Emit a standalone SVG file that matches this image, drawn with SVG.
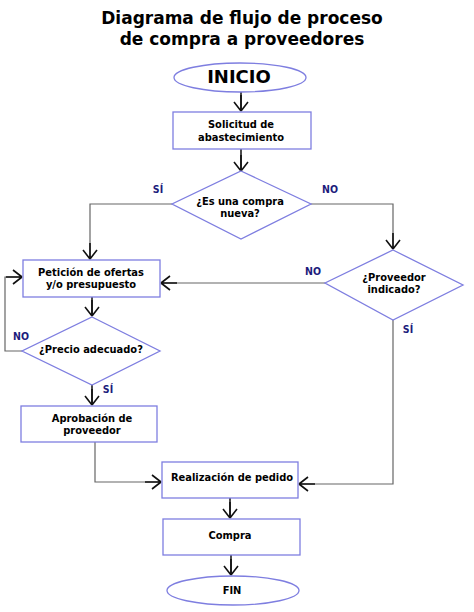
<svg xmlns="http://www.w3.org/2000/svg" width="474" height="612" viewBox="0 0 474 612">
<style>
.t{font-family:"DejaVu Sans",Verdana,sans-serif;font-weight:bold;fill:#000;text-anchor:middle}
.n{font-family:"DejaVu Sans Condensed","DejaVu Sans",sans-serif;font-stretch:condensed;font-weight:bold;font-size:11px;fill:#000;text-anchor:middle}
.l{font-family:"DejaVu Sans Condensed","DejaVu Sans",sans-serif;font-stretch:condensed;font-weight:bold;font-size:10.5px;fill:#1c1c7c;text-anchor:middle}
.s{fill:#fff;stroke:#7e7ee0;stroke-width:1.3}
.c{fill:none;stroke:#666;stroke-width:1.2}
.k{fill:none;stroke:#111;stroke-width:1.5}
</style>
<defs>
<marker id="a" markerUnits="userSpaceOnUse" viewBox="-20 -10 22 20" refX="0" refY="0" markerWidth="22" markerHeight="20" orient="auto" overflow="visible">
<path d="M0,0 L-9,-7 M0,0 L-9,7 M0,0 L-16,0" fill="none" stroke="#111" stroke-width="1.6"/>
</marker>
</defs>
<rect width="474" height="612" fill="#fff"/>
<g id="title">
<text class="t" x="242" y="24" font-size="17">Diagrama de flujo de proceso</text>
<text class="t" x="242" y="45" font-size="17">de compra a proveedores</text>
</g>
<g id="connectors">
<path class="k" d="M241,92 V111" marker-end="url(#a)"/>
<path class="k" d="M241,149 V171" marker-end="url(#a)"/>
<path class="c" d="M172,204 H90 V259" marker-end="url(#a)"/>
<path class="c" d="M311,204 H393 V249" marker-end="url(#a)"/>
<path class="c" d="M325,283 H161" marker-end="url(#a)"/>
<path class="k" d="M92,297 V316" marker-end="url(#a)"/>
<path class="c" d="M22,351 H5 V277 H22" marker-end="url(#a)"/>
<path class="k" d="M92,385 V405" marker-end="url(#a)"/>
<path class="c" d="M95,442 V482 H161" marker-end="url(#a)"/>
<path class="c" d="M393,320 V484 H299" marker-end="url(#a)"/>
<path class="k" d="M230,498 V518" marker-end="url(#a)"/>
<path class="k" d="M231,555 V575" marker-end="url(#a)"/>
<text class="l" x="158" y="193">SÍ</text>
<text class="l" x="330" y="193">NO</text>
<text class="l" x="313" y="275">NO</text>
<text class="l" x="21" y="340">NO</text>
<text class="l" x="108" y="393">SÍ</text>
<text class="l" x="408" y="333">SÍ</text>
</g>
<g id="inicio">
<ellipse class="s" cx="240" cy="77.5" rx="66" ry="14.5"/>
<text class="t" x="239" y="83" font-size="18">INICIO</text>
</g>
<g id="solicitud">
<rect class="s" x="173" y="112" width="138" height="37"/>
<text class="n" x="241" y="128">Solicitud de</text>
<text class="n" x="241" y="141">abastecimiento</text>
</g>
<g id="compra-nueva">
<polygon class="s" points="241,171 311,204 241,239 172,204"/>
<text class="n" x="240" y="205">¿Es una compra</text>
<text class="n" x="240" y="217">nueva?</text>
</g>
<g id="peticion">
<rect class="s" x="23" y="260" width="137" height="37"/>
<text class="n" x="91" y="276">Petición de ofertas</text>
<text class="n" x="91" y="288">y/o presupuesto</text>
</g>
<g id="proveedor-indicado">
<polygon class="s" points="393,250 463,285 393,320 325,283"/>
<text class="n" x="394" y="281">¿Proveedor</text>
<text class="n" x="394" y="293">indicado?</text>
</g>
<g id="precio">
<polygon class="s" points="92,317 160,351 92,385 22,351"/>
<text class="n" x="91" y="353">¿Precio adecuado?</text>
</g>
<g id="aprobacion">
<rect class="s" x="21" y="406" width="136" height="36"/>
<text class="n" x="92" y="422">Aprobación de</text>
<text class="n" x="92" y="434">proveedor</text>
</g>
<g id="realizacion">
<rect class="s" x="162" y="462" width="136" height="36"/>
<text class="n" x="232" y="481">Realización de pedido</text>
</g>
<g id="compra">
<rect class="s" x="163" y="519" width="137" height="36"/>
<text class="n" x="230" y="539">Compra</text>
</g>
<g id="fin">
<ellipse class="s" cx="233" cy="590.5" rx="66" ry="14.5"/>
<text class="n" x="232" y="594">FIN</text>
</g>
</svg>
